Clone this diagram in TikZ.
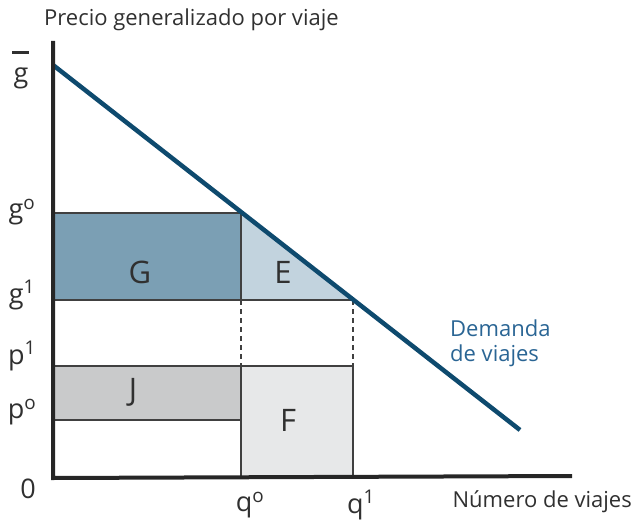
\documentclass[tikz,border=0pt]{standalone}
\usepackage{fontspec}
\setmainfont{Open Sans}
\definecolor{gcol}{HTML}{7B9FB4}
\definecolor{ecol}{HTML}{C2D3DE}
\definecolor{jcol}{HTML}{C9CACB}
\definecolor{fcol}{HTML}{E7E8E9}
\definecolor{dem}{HTML}{0E4A6E}
\definecolor{demtxt}{HTML}{2A6594}
\definecolor{txt}{HTML}{303030}
\definecolor{thin}{HTML}{404040}
\tikzset{
  lab/.style={text=txt, font=\fontsize{27}{29}\selectfont, inner sep=0pt},
  area/.style={text=txt, font=\fontsize{31}{33}\selectfont, inner sep=0pt},
  small/.style={text=txt, font=\fontsize{22}{25}\selectfont, inner sep=0pt},
  thinline/.style={draw=thin, line width=1.3pt},
  dashline/.style={draw=thin, line width=1.1pt, dash pattern=on 5pt off 4pt},
}
\begin{document}
\begin{tikzpicture}[x=1pt,y=-1pt]
\useasboundingbox (0,0) rectangle (634,524);
% key coordinates
\coordinate (O) at (53,476);
\coordinate (ytop) at (53,41);
\coordinate (xend) at (572,476);
\coordinate (gbar) at (53,65);
\coordinate (dend) at (520,430);
\coordinate (A) at (241,213);
\coordinate (B) at (353,300);
% fills
\fill[gcol] (53,213) rectangle (241,300);
\fill[ecol] (241,213) -- (241,300) -- (353,300) -- cycle;
\fill[jcol] (53,366) rectangle (241,420);
\fill[fcol] (241,366) rectangle (353,476);
% thin lines
\draw[thinline] (53,213) -- (A);
\draw[thinline] (53,300) -- (B);
\draw[thinline] (53,366) -- (353,366);
\draw[thinline] (53,420) -- (241,420);
\draw[thinline] (A) -- (241,300);
\draw[dashline] (241,300) -- (241,366);
\draw[dashline] (B) -- (353,366);
\draw[thinline] (241,366) -- (241,476);
\draw[thinline] (353,366) -- (353,476);
% demand
\draw[dem, line width=4.5pt] (gbar) -- (dend);
% axes
\draw[black!85, line width=4pt] (ytop) -- (53,478) -- (xend);
% labels
\node[small, anchor=west] (ylab) at (44,20) {Precio generalizado por viaje};
\node[lab, align=center, anchor=north] (lgbar) at (21,51) {\rule{17pt}{2.4pt}\\g};
\node[lab] (lg0) at (22,212) {g\textsuperscript{o}};
\node[lab] (lg1) at (22,295) {g\textsuperscript{1}};
\node[lab] (lp1) at (22,356) {p\textsuperscript{1}};
\node[lab] (lp0) at (22,412) {p\textsuperscript{o}};
\node[lab] (l0) at (28,489) {0};
\node[lab] (lq0) at (250,505) {q\textsuperscript{o}};
\node[lab] (lq1) at (361,505) {q\textsuperscript{1}};
\node[small, anchor=east] (xlab) at (632,502) {Número de viajes};
\node[small, text=demtxt, align=left, anchor=west] (dlab) at (450,343) {Demanda\\de viajes};
\node[area] (G) at (140,272) {G};
\node[area] (E) at (283,272) {E};
\node[area] (J) at (133,392) {J};
\node[area] (F) at (288,420) {F};
\end{tikzpicture}
\end{document}
